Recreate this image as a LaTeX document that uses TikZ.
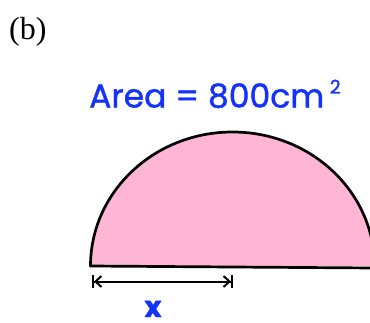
\documentclass[tikz,border=0pt]{standalone}
\usepackage{fontspec}
\setmainfont{Liberation Serif}
\newfontfamily\comicfont[FakeBold=1.2]{Poppins}
\usetikzlibrary{arrows.meta}
\definecolor{areablue}{RGB}{20,50,250}
\definecolor{shapepink}{RGB}{255,182,213}
\tikzset{
  lbl/.style={inner sep=0pt, text=areablue, font=\comicfont},
  dimline/.style={line width=2pt, {Bar[width=13pt,line width=2pt]Straight Barb[length=6pt,width=11pt,line width=2pt]}-{Straight Barb[length=6pt,width=11pt,line width=2pt]Bar[width=13pt,line width=2pt]}}
}
\begin{document}
\begin{tikzpicture}[x=1pt,y=-1pt]
\useasboundingbox (0,0) rectangle (370,322);
\node[inner sep=0pt, anchor=base west, font=\fontsize{32}{34}\selectfont] (b) at (9,39) {(b)};
\node[lbl, anchor=base west, font=\comicfont\fontsize{33}{34}\selectfont] (area) at (89,107.5) {Area = 800cm\,\raisebox{0.42em}{\fontsize{19}{19}\selectfont 2}};
\coordinate (L) at (90.5,266);
\coordinate (R) at (374.5,268);
\fill[shapepink] (L) arc[start angle=180, end angle=0, x radius=142, y radius=-134] -- cycle;
\draw[line width=2.7pt, line join=round] (R) -- (L) arc[start angle=180, end angle=0, x radius=142, y radius=-134];
\coordinate (a1) at (92,281.5);
\coordinate (a2) at (233,281.5);
\draw[dimline] (a1) -- (a2);
\node[lbl, font=\comicfont\bfseries\fontsize{29}{29}\selectfont, anchor=base] (x) at (153,317) {x};
\end{tikzpicture}
\end{document}
